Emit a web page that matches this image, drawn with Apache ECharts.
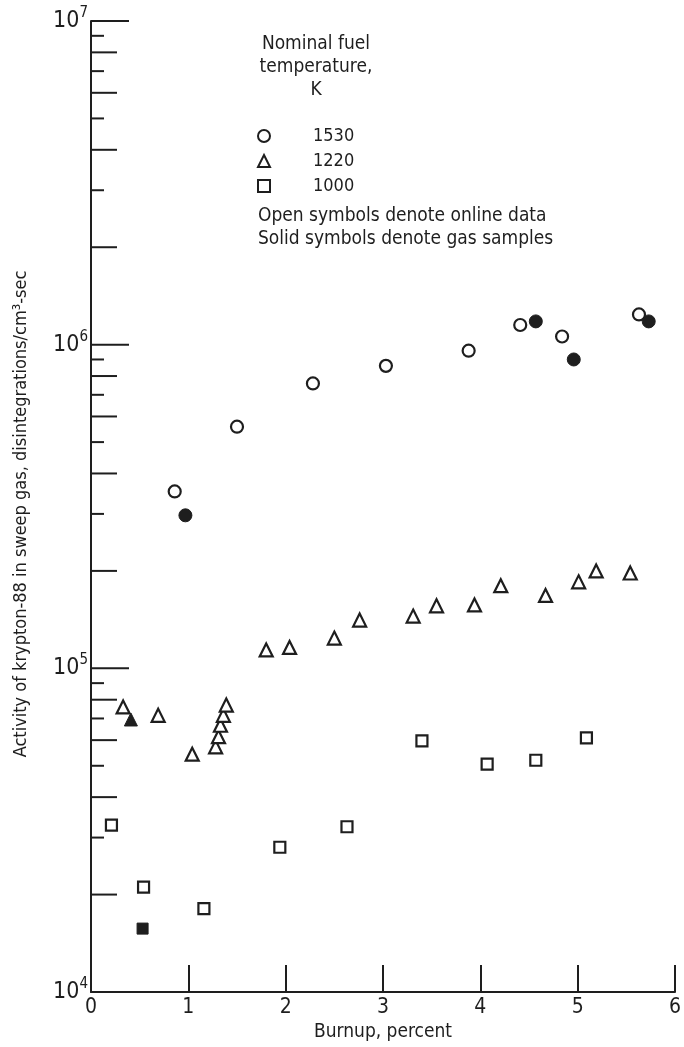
<!DOCTYPE html>
<html>
<head>
<meta charset="utf-8">
<script src="https://cdn.jsdelivr.net/npm/echarts@6/dist/echarts.min.js"></script>
<style>
  html, body { margin: 0; padding: 0; background: #fff; }
  #chart { width: 684px; height: 1047px; }
</style>
</head>
<body>
<div id="chart"></div>
<script>
// burnup (percent), activity (disintegrations/cm3-sec)
var open1530 = [[0.86, 3.52e5], [1.50, 5.58e5], [2.28, 7.59e5], [3.03, 8.6e5], [3.88, 9.58e5],
  [4.41, 1.15e6], [4.84, 1.06e6], [5.63, 1.24e6]];
var solid1530 = [[0.97, 2.97e5], [4.57, 1.18e6], [4.96, 9.0e5], [5.73, 1.18e6]];

var open1220 = [[0.33, 7.6e4], [0.69, 7.16e4], [1.04, 5.43e4], [1.28, 5.72e4], [1.31, 6.15e4],
  [1.33, 6.67e4], [1.36, 7.16e4], [1.39, 7.7e4], [1.80, 1.14e5], [2.04, 1.16e5],
  [2.50, 1.24e5], [2.76, 1.41e5], [3.31, 1.45e5], [3.55, 1.56e5], [3.94, 1.57e5],
  [4.21, 1.80e5], [4.67, 1.68e5], [5.01, 1.85e5], [5.19, 2.0e5], [5.54, 1.97e5]];
var solid1220 = [[0.41, 6.95e4]];

var open1000 = [[0.21, 3.28e4], [0.54, 2.11e4], [1.16, 1.81e4], [1.94, 2.80e4], [2.63, 3.24e4],
  [3.40, 5.97e4], [4.07, 5.06e4], [4.57, 5.2e4], [5.09, 6.1e4]];
var solid1000 = [[0.53, 1.57e4]];

var xTicks = [0, 1, 2, 3, 4, 5, 6];
var decades = [1e4, 1e5, 1e6, 1e7];

var ink = "#1e1e1e";
var font = "'DejaVu Sans Condensed', 'Liberation Sans Narrow', sans-serif";

// y axis tick marks drawn inward: decades long, even minors medium, odd minors short
var yTickMarks = [];
decades.forEach(function (d, i) {
  yTickMarks.push([0, d, 38]);
  if (i < decades.length - 1) {
    for (var m = 2; m <= 9; m++) {
      yTickMarks.push([0, d * m, m % 2 === 0 ? 26 : 13]);
    }
  }
});

var myChart = echarts.init(document.getElementById("chart"));

function openSym(name, symbol, data, size) {
  return {
    name: name, type: "scatter", symbol: symbol, symbolSize: size, data: data,
    itemStyle: { color: "#fff", borderColor: ink, borderWidth: 2.2, opacity: 1 },
    z: 5
  };
}
function solidSym(name, symbol, data, size) {
  return {
    name: name, type: "scatter", symbol: symbol, symbolSize: size, data: data,
    itemStyle: { color: ink, borderColor: ink, borderWidth: 1, opacity: 1 },
    z: 5
  };
}

var option = {
  backgroundColor: "#fff",
  animation: false,
  textStyle: { fontFamily: font, color: ink },
  grid: { left: 91, right: 8, top: 21, bottom: 54 },
  legend: {
    data: ["1530", "1220", "1000"],
    orient: "vertical",
    left: 252,
    top: 122,
    itemWidth: 12,
    itemHeight: 12,
    itemGap: 7,
    textStyle: { fontFamily: font, fontSize: 18, color: ink, lineHeight: 18, padding: [0, 0, 0, 38] },
    selectedMode: false
  },
  graphic: [
    {
      type: "text", x: 316, y: 33,
      style: {
        text: "Nominal fuel\ntemperature,\nK",
        textAlign: "center", font: "19px " + font, fill: ink, lineHeight: 23
      }
    },
    {
      type: "text", x: 258, y: 205,
      style: {
        text: "Open symbols denote online data\nSolid symbols denote gas samples",
        font: "19px " + font, fill: ink, lineHeight: 23
      }
    },
    {
      type: "text", x: 21, y: 514, rotation: Math.PI / 2,
      style: {
        text: "Activity of krypton-88 in sweep gas, disintegrations/cm\u00b3-sec",
        textAlign: "center", textVerticalAlign: "middle",
        font: "18px " + font, fill: ink
      }
    }
  ],
  xAxis: {
    type: "value", min: 0, max: 6, interval: 1,
    name: "Burnup, percent", nameLocation: "middle", nameGap: 31,
    nameTextStyle: { fontSize: 19, color: ink, fontFamily: font },
    axisLine: { lineStyle: { color: ink, width: 2 } },
    axisTick: { inside: true, length: 27, lineStyle: { color: ink, width: 2 } },
    axisLabel: { fontSize: 21, color: ink, margin: 5, fontFamily: font,
      formatter: function (v) { return xTicks.indexOf(v) >= 0 ? String(v) : ""; } },
    splitLine: { show: false }
  },
  yAxis: {
    type: "log", logBase: 10, min: decades[0], max: decades[decades.length - 1],
    axisLine: { show: true, lineStyle: { color: ink, width: 2 } },
    axisTick: { show: false },
    splitLine: { show: false },
    axisLabel: {
      margin: 3, color: ink,
      formatter: function (v) {
        return "{b|10}{s|" + Math.round(Math.log10(v)) + "}";
      },
      rich: {
        b: { fontSize: 23, fontFamily: font, color: ink },
        s: { fontSize: 15, fontFamily: font, color: ink, padding: [0, 0, 16, 0] }
      }
    }
  },
  series: [
    {
      type: "custom", name: "yticks", silent: true, z: 3,
      data: yTickMarks,
      encode: { x: 0, y: 1 },
      renderItem: function (params, api) {
        var p = api.coord([api.value(0), api.value(1)]);
        var len = api.value(2);
        return {
          type: "line",
          shape: { x1: p[0], y1: p[1], x2: p[0] + len, y2: p[1] },
          style: { stroke: ink, lineWidth: 2 }
        };
      }
    },
    openSym("1530", "circle", open1530, 12),
    solidSym("1530 gas", "circle", solid1530, 13),
    openSym("1220", "triangle", open1220, 13),
    solidSym("1220 gas", "triangle", solid1220, 13),
    openSym("1000", "rect", open1000, 11),
    solidSym("1000 gas", "rect", solid1000, 11)
  ]
};
myChart.setOption(option);
window.addEventListener("resize", function () {
  myChart.resize();
});
</script>
</body>
</html>
